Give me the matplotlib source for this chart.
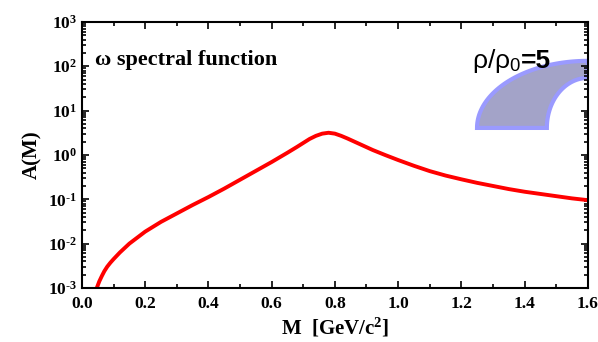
import numpy as np
import matplotlib.pyplot as plt
from matplotlib.patches import Polygon
from matplotlib.ticker import MultipleLocator, LogLocator, NullFormatter, FixedLocator

plt.rcParams['font.family'] = 'Liberation Serif'
plt.rcParams['font.weight'] = 'bold'
plt.rcParams['mathtext.fontset'] = 'custom'
plt.rcParams['mathtext.rm'] = 'Liberation Serif:bold'
plt.rcParams['mathtext.it'] = 'Liberation Serif:bold'
plt.rcParams['mathtext.sf'] = 'Liberation Sans:normal'

# omega spectral function (M in GeV/c^2, log10 A)
mass = [0.047, 0.055, 0.063, 0.071, 0.08, 0.09, 0.10, 0.12, 0.15, 0.20, 0.25,
        0.30, 0.35, 0.40, 0.45, 0.50, 0.55, 0.60, 0.65, 0.68, 0.70, 0.72, 0.74,
        0.76, 0.78, 0.80, 0.82, 0.84, 0.86, 0.88, 0.90, 0.92, 0.96, 1.00, 1.05,
        1.10, 1.15, 1.20, 1.25, 1.30, 1.35, 1.40, 1.45, 1.50, 1.55, 1.60]
log_a = [-3.0, -2.85, -2.73, -2.62, -2.52, -2.43, -2.35, -2.20, -2.00, -1.73, -1.51,
         -1.32, -1.13, -0.95, -0.76, -0.56, -0.36, -0.16, 0.05, 0.18, 0.27, 0.36, 0.43,
         0.48, 0.50, 0.48, 0.43, 0.37, 0.305, 0.24, 0.175, 0.11, -0.005, -0.115, -0.245,
         -0.365, -0.465, -0.55, -0.63, -0.70, -0.77, -0.83, -0.88, -0.93, -0.98, -1.02]
spectral = 10.0 ** np.array(log_a)

xticks = [0.0, 0.2, 0.4, 0.6, 0.8, 1.0, 1.2, 1.4, 1.6]
yexps = [-3, -2, -1, 0, 1, 2, 3]

fig = plt.figure(figsize=(5.98, 3.42), dpi=100)
ax = fig.add_axes([0.137, 0.158, 0.846, 0.778])

ax.plot(mass, spectral, color='#ff0000', lw=2.8, solid_joinstyle='round')

ax.set_yscale('log')
ax.set_xlim(0, 1.6)
ax.set_ylim(1e-3, 1e3)

ax.xaxis.set_major_locator(FixedLocator(xticks))
ax.xaxis.set_minor_locator(MultipleLocator(0.1))
ax.set_xticklabels([f'{t:.1f}' for t in xticks])
ax.yaxis.set_major_locator(FixedLocator([10.0 ** e for e in yexps]))
ax.set_yticklabels([r'$10^{\text{' + str(e) + '}}$' for e in yexps])
ax.yaxis.set_minor_locator(LogLocator(base=10, subs=np.arange(2, 10), numticks=20))
ax.yaxis.set_minor_formatter(NullFormatter())

ax.tick_params(which='both', direction='in', top=True, right=True, width=1.2)
ax.tick_params(which='major', length=5, labelsize=12.5)
ax.tick_params(which='minor', length=3)
ax.tick_params(axis='x', which='major', pad=6)
for s in ax.spines.values():
    s.set_linewidth(1.5)

ax.set_xlabel('M  [GeV/c$^2$]', fontsize=15, fontweight='bold', labelpad=3)
ax.set_ylabel('A(M)', fontsize=15, fontweight='bold', labelpad=4)

ax.text(0.025, 0.855, '\u03c9 spectral function', transform=ax.transAxes,
        fontsize=16, fontweight='bold', va='center', ha='left')

# density label: "rho/rho0" regular, "=5" bold, placed right after it
rho_y = 0.827
t1 = ax.text(0.771, rho_y, '\u03c1/\u03c1$_\\mathsf{0}$', transform=ax.transAxes,
             fontsize=19, family='Liberation Sans', fontweight='normal',
             va='baseline', ha='left')
bb = t1.get_window_extent(renderer=fig.canvas.get_renderer())
x_next = ax.transAxes.inverted().transform((bb.x1, 0))[0]
ax.text(x_next, rho_y, '=5', transform=ax.transAxes, fontsize=19,
        family='Liberation Sans', fontweight='bold', va='baseline', ha='left')

# shaded band decoration in the upper right corner
cx, cy = 1.0, 0.6015
t = np.linspace(np.pi, np.pi / 2, 60)
outer = np.column_stack([cx + 0.219 * np.cos(t), cy + 0.252 * np.sin(t)])
inner = np.column_stack([cx + 0.081 * np.cos(t[::-1]), cy + 0.188 * np.sin(t[::-1])])
band = Polygon(np.vstack([outer, inner]), closed=True, transform=ax.transAxes,
               facecolor='#a3a3c8', edgecolor='#9a9aff', lw=3, clip_on=True)
ax.add_patch(band)

fig.savefig('out.png', dpi=100)
